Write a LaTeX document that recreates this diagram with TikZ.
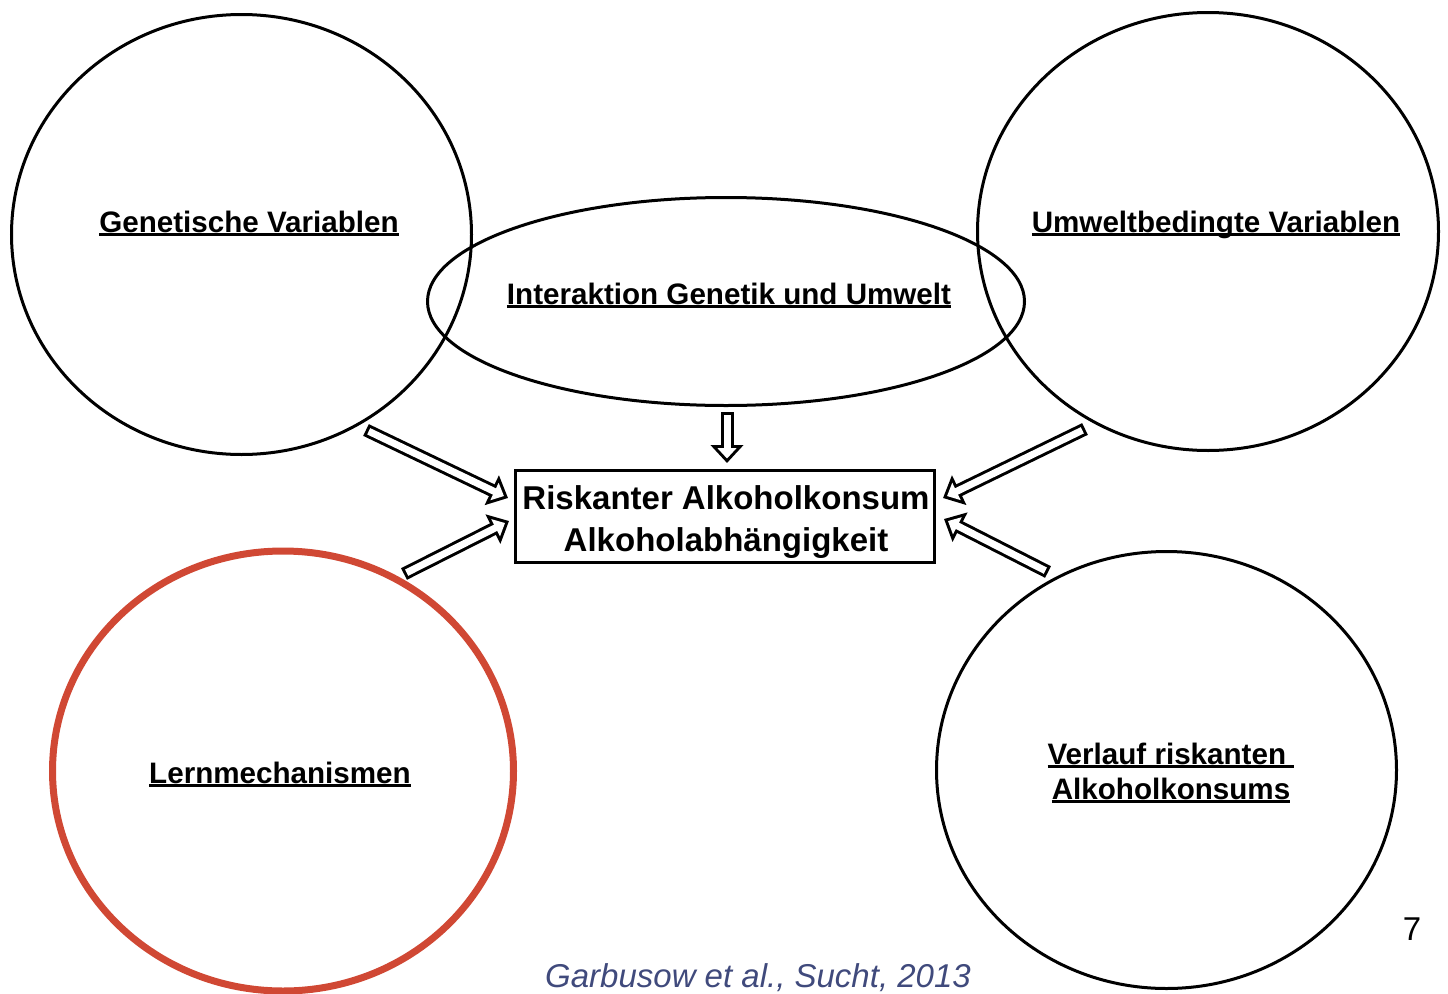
\documentclass[tikz,border=0pt]{standalone}
\usepackage{fontspec}
\setmainfont{Liberation Sans}
\usepackage{xcolor}
\usetikzlibrary{shapes.geometric,arrows.meta}
\definecolor{lernred}{RGB}{208,72,52}
\definecolor{citeblue}{RGB}{64,74,124}
\newcommand{\ultext}[1]{\setbox0\hbox{#1}\rlap{\rule[-0.13em]{\wd0}{0.085em}}\box0}
\tikzset{
  oval/.style={ellipse, draw, line width=3pt, inner sep=0pt, outer sep=0pt},
  lbl/.style={anchor=base, inner sep=0pt, font=\fontsize{29.6}{35}\selectfont\bfseries, align=center},
  arrowout/.style={line width=13pt, -{Triangle[length=18pt,width=32pt]}},
  arrowin/.style={draw=white, line width=7pt, shorten >=4.5pt, shorten <=3pt, -{Triangle[length=10.5pt,width=18.7pt]}}
}
\begin{document}
\begin{tikzpicture}[x=1pt,y=-1pt]
	\useasboundingbox (0,0) rectangle (1448,993);
	% The circles
	\node[oval, minimum width=460pt, minimum height=440pt] (gen) at (241.5,234.5) {};
	\node[oval, minimum width=461pt, minimum height=438pt] (umw) at (1208,231.5) {};
	\node[oval, minimum width=597pt, minimum height=208pt] (inter) at (726,301.5) {};
	\node[oval, minimum width=460pt, minimum height=437pt] (verl) at (1166.5,770) {};
	\node[oval, draw=lernred, line width=7pt, minimum width=461pt, minimum height=440pt] (lern) at (283,771) {};

	% The box
	\node[draw, line width=3pt, minimum width=419pt, minimum height=92pt] (risk) at (725,516.5) {};
	\node[anchor=base, inner sep=0pt, align=center, font=\fontsize{33}{42}\selectfont\bfseries] (risktxt) at (726,551) {Riskanter Alkoholkonsum\\Alkoholabhängigkeit};

	% The labels
	\node[lbl] (genlbl) at (249,232) {\ultext{Genetische Variablen}};
	\node[lbl] (umwlbl) at (1216,232) {\ultext{Umweltbedingte Variablen}};
	\node[lbl] (interlbl) at (729,304) {\ultext{Interaktion Genetik und Umwelt}};
	\node[lbl] (lernlbl) at (280,783) {\ultext{Lernmechanismen}};
	\node[lbl] (verllbl) at (1171,799) {\ultext{Verlauf riskanten\ }\\\ultext{Alkoholkonsums}};
	\node[anchor=base, inner sep=0pt, font=\fontsize{33}{40}\selectfont] (page) at (1412,940) {7};
	\node[anchor=base, inner sep=0pt, text=citeblue, font=\fontsize{33}{40}\selectfont\itshape] (cite) at (758,987) {Garbusow et al., Sucht, 2013};

	% The block arrows
	\coordinate (gentail) at (366,430);  \coordinate (gentip) at (508,498);
	\coordinate (lerntail) at (404,574); \coordinate (lerntip) at (509,521);
	\coordinate (umwtail) at (1085,429); \coordinate (umwtip) at (943,498);
	\coordinate (verltail) at (1048,572); \coordinate (verltip) at (944,519);
	\coordinate (intertail) at (727,412); \coordinate (intertip) at (727,463);
	\foreach \t/\h in {gentail/gentip, lerntail/lerntip, umwtail/umwtip, verltail/verltip, intertail/intertip}{
		\draw[arrowout] (\t) -- (\h);
		\draw[arrowin] (\t) -- (\h);
	}
\end{tikzpicture}
\end{document}
